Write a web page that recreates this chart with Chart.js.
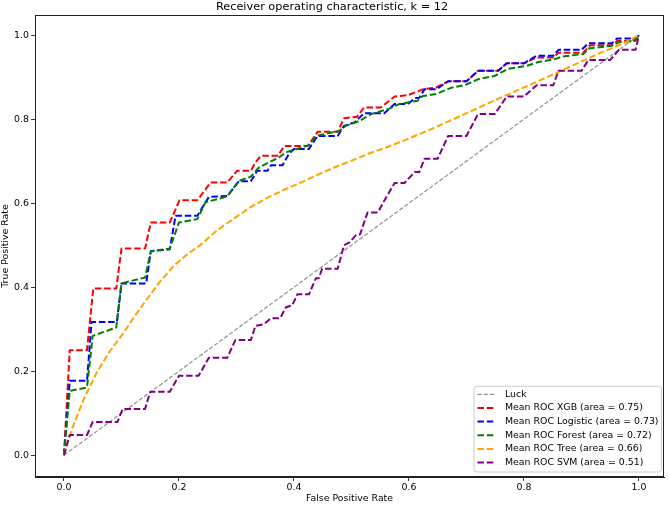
<!DOCTYPE html>
<html>
<head>
<meta charset="utf-8">
<script src="https://cdn.jsdelivr.net/npm/chart.js"></script>
<style>
  html, body { margin: 0; padding: 0; background: #fff; }
  canvas { display: block; }
</style>
</head>
<body>
<canvas id="rocChart" width="669" height="505"></canvas>
<script>
const titleText = 'Receiver operating characteristic, k = 12';
const xTicks = [0, 0.2, 0.4, 0.6, 0.8, 1.0];
const yTicks = [0, 0.2, 0.4, 0.6, 0.8, 1.0];

const labels = [
  'Luck',
  'Mean ROC XGB (area = 0.75)',
  'Mean ROC Logistic (area = 0.73)',
  'Mean ROC Forest (area = 0.72)',
  'Mean ROC Tree (area = 0.66)',
  'Mean ROC SVM (area = 0.51)',
];
const colors = ['rgba(128,128,128,0.8)', '#ff0000', '#0000ff', '#008000', '#ffa500', '#800080'];

// данные
const luckX = [0, 1];
const luckY = [0, 1];

const xgbX = [0, 0.01, 0.04, 0.051, 0.091, 0.10, 0.141, 0.151, 0.184, 0.201, 0.232, 0.255, 0.284, 0.301, 0.325, 0.333, 0.343, 0.372, 0.383, 0.424, 0.441, 0.476, 0.487, 0.51, 0.522, 0.551, 0.575, 0.598, 0.624, 0.647, 0.668, 0.70, 0.72, 0.755, 0.77, 0.80, 0.822, 0.851, 0.86, 0.903, 0.915, 0.953, 0.962, 0.994, 1.0];
const xgbY = [0, 0.25, 0.25, 0.397, 0.397, 0.492, 0.492, 0.554, 0.554, 0.607, 0.607, 0.649, 0.649, 0.677, 0.677, 0.697, 0.713, 0.713, 0.736, 0.736, 0.77, 0.77, 0.802, 0.806, 0.828, 0.828, 0.854, 0.857, 0.871, 0.875, 0.89, 0.89, 0.915, 0.915, 0.933, 0.933, 0.947, 0.947, 0.958, 0.958, 0.976, 0.976, 0.986, 0.986, 1.0];

const logX = [0, 0.01, 0.04, 0.048, 0.092, 0.10, 0.143, 0.151, 0.184, 0.194, 0.232, 0.252, 0.284, 0.304, 0.325, 0.336, 0.354, 0.36, 0.38, 0.391, 0.40, 0.426, 0.435, 0.441, 0.476, 0.487, 0.505, 0.522, 0.557, 0.575, 0.598, 0.61, 0.618, 0.627, 0.647, 0.668, 0.70, 0.72, 0.755, 0.77, 0.80, 0.822, 0.851, 0.86, 0.90, 0.912, 0.953, 0.962, 0.994, 1.0];
const logY = [0, 0.177, 0.177, 0.317, 0.317, 0.409, 0.409, 0.486, 0.49, 0.57, 0.57, 0.615, 0.617, 0.652, 0.652, 0.677, 0.677, 0.69, 0.69, 0.717, 0.729, 0.729, 0.748, 0.76, 0.76, 0.784, 0.792, 0.814, 0.814, 0.836, 0.836, 0.85, 0.851, 0.871, 0.871, 0.89, 0.89, 0.915, 0.915, 0.933, 0.933, 0.951, 0.951, 0.965, 0.965, 0.981, 0.981, 0.992, 0.992, 1.0];

const forestX = [0, 0.01, 0.04, 0.05, 0.091, 0.10, 0.141, 0.151, 0.184, 0.20, 0.232, 0.246, 0.284, 0.304, 0.325, 0.339, 0.374, 0.386, 0.426, 0.438, 0.479, 0.49, 0.514, 0.534, 0.566, 0.583, 0.615, 0.624, 0.647, 0.674, 0.697, 0.72, 0.749, 0.773, 0.805, 0.825, 0.854, 0.866, 0.903, 0.912, 0.953, 0.965, 0.99, 1.0];
const forestY = [0, 0.153, 0.161, 0.284, 0.304, 0.409, 0.423, 0.485, 0.492, 0.554, 0.562, 0.602, 0.616, 0.653, 0.663, 0.685, 0.709, 0.721, 0.738, 0.76, 0.772, 0.784, 0.796, 0.812, 0.825, 0.836, 0.844, 0.855, 0.86, 0.875, 0.881, 0.895, 0.903, 0.92, 0.927, 0.936, 0.943, 0.949, 0.955, 0.968, 0.975, 0.983, 0.986, 1.0];

const treeX = [0, 0.005, 0.016, 0.035, 0.057, 0.08, 0.104, 0.124, 0.144, 0.167, 0.191, 0.214, 0.237, 0.265, 0.295, 0.324, 0.354, 0.383, 0.412, 0.44, 0.47, 0.5, 0.528, 0.557, 0.586, 0.645, 0.703, 0.761, 0.819, 0.877, 0.935, 0.97, 1.0];
const treeY = [0, 0.025, 0.07, 0.135, 0.197, 0.248, 0.292, 0.333, 0.371, 0.413, 0.451, 0.478, 0.50, 0.534, 0.563, 0.59, 0.613, 0.632, 0.649, 0.667, 0.685, 0.701, 0.717, 0.731, 0.746, 0.78, 0.816, 0.852, 0.887, 0.923, 0.959, 0.979, 1.0];

const svmX = [0, 0.01, 0.04, 0.05, 0.093, 0.102, 0.141, 0.15, 0.184, 0.20, 0.234, 0.252, 0.284, 0.298, 0.325, 0.333, 0.348, 0.36, 0.376, 0.386, 0.397, 0.406, 0.426, 0.438, 0.443, 0.449, 0.476, 0.487, 0.496, 0.508, 0.515, 0.528, 0.546, 0.557, 0.575, 0.592, 0.61, 0.618, 0.627, 0.65, 0.668, 0.70, 0.72, 0.749, 0.77, 0.80, 0.822, 0.851, 0.86, 0.90, 0.912, 0.95, 0.965, 0.994, 1.0];
const svmY = [0, 0.048, 0.048, 0.079, 0.079, 0.11, 0.11, 0.151, 0.151, 0.189, 0.189, 0.232, 0.232, 0.274, 0.274, 0.308, 0.312, 0.326, 0.326, 0.352, 0.357, 0.383, 0.383, 0.421, 0.421, 0.444, 0.444, 0.50, 0.506, 0.524, 0.526, 0.578, 0.578, 0.606, 0.648, 0.648, 0.674, 0.674, 0.706, 0.706, 0.76, 0.76, 0.812, 0.812, 0.854, 0.854, 0.881, 0.881, 0.915, 0.915, 0.941, 0.941, 0.965, 0.965, 1.0];

const seriesX = [luckX, xgbX, logX, forestX, treeX, svmX];
const seriesY = [luckY, xgbY, logY, forestY, treeY, svmY];

const FONT = "'DejaVu Sans', sans-serif";
const lineWidth = (i) => (i === 0 ? 1.3 : 2);
const lineDash = (i) => (i === 0 ? [4.3, 1.9] : [6.5, 2.8]);

Chart.defaults.font.family = FONT;
Chart.defaults.color = '#000';

// рамка вокруг области графика
const framePlugin = {
  id: 'frame',
  afterDraw: (chart) => {
    const { ctx, chartArea: a } = chart;
    ctx.save();
    ctx.strokeStyle = '#222';
    ctx.lineWidth = 1;
    ctx.strokeRect(Math.round(a.left) + 0.5, Math.round(a.top) + 0.5,
      Math.round(a.right - a.left) - 1, Math.round(a.bottom - a.top) - 1);
    ctx.restore();
  },
};

// легенда внутри графика, справа снизу
const boxLegend = {
  id: 'boxLegend',
  afterDraw: (chart) => {
    const { ctx, chartArea: a } = chart;
    ctx.save();
    ctx.font = `9.4px ${FONT}`;
    const rowH = 13.66;
    const textW = Math.max(...labels.map((l) => ctx.measureText(l).width));
    const w = 3.5 + 18 + 9.5 + textW + 3;
    const h = 8 + (labels.length - 1) * rowH + 9.4;
    const right = a.right - 2.5;
    const bottom = a.bottom - 5;
    const left = right - w;
    const top = bottom - h;
    ctx.beginPath();
    if (ctx.roundRect) ctx.roundRect(left, top, w, h, 3);
    else ctx.rect(left, top, w, h);
    ctx.fillStyle = 'rgba(255,255,255,0.8)';
    ctx.fill();
    ctx.strokeStyle = '#cccccc';
    ctx.lineWidth = 1;
    ctx.stroke();
    labels.forEach((label, i) => {
      const y = top + 8 + i * rowH;
      ctx.beginPath();
      ctx.setLineDash(lineDash(i));
      ctx.lineWidth = lineWidth(i);
      ctx.strokeStyle = colors[i];
      ctx.moveTo(left + 3.5, y);
      ctx.lineTo(left + 21.5, y);
      ctx.stroke();
      ctx.setLineDash([]);
      ctx.fillStyle = '#000';
      ctx.textBaseline = 'middle';
      ctx.textAlign = 'left';
      ctx.fillText(label, left + 31, y);
    });
    ctx.restore();
  },
};

const tickFont = { family: FONT, size: 9.4 };

const ctx = document.getElementById('rocChart').getContext('2d');
const chart = new Chart(ctx, {
  type: 'scatter',
  data: {
    datasets: labels.map((label, i) => ({
      label,
      data: seriesX[i].map((x, j) => ({ x, y: seriesY[i][j] })),
      showLine: true,
      borderColor: colors[i],
      backgroundColor: colors[i],
      borderWidth: lineWidth(i),
      borderDash: lineDash(i),
      borderJoinStyle: 'round',
      pointRadius: 0,
      pointHoverRadius: 0,
      fill: false,
      tension: 0,
      order: labels.length - i,
    })),
  },
  options: {
    responsive: false,
    animation: false,
    devicePixelRatio: 1,
    layout: { padding: { left: 0, right: 5, top: 0, bottom: 0 } },
    scales: {
      x: {
        type: 'linear',
        min: -0.0504,
        max: 1.0435,
        afterBuildTicks: (s) => { s.ticks = xTicks.map((v) => ({ value: v })); },
        afterFit: (s) => { s.height = 28; },
        ticks: {
          callback: (v) => v.toFixed(1),
          font: tickFont,
          color: '#000',
          padding: 1,
          maxRotation: 0,
          autoSkip: false,
        },
        grid: { drawOnChartArea: false, tickLength: 4, color: '#222', tickWidth: 0.9 },
        border: { display: true, color: '#222', width: 1 },
        title: {
          display: true,
          text: 'False Positive Rate',
          font: tickFont,
          color: '#000',
          padding: { top: 0, bottom: 1.2 },
        },
      },
      y: {
        type: 'linear',
        min: -0.052,
        max: 1.048,
        afterBuildTicks: (s) => { s.ticks = yTicks.map((v) => ({ value: v })); },
        afterFit: (s) => { s.width = 35; },
        ticks: {
          callback: (v) => v.toFixed(1),
          font: tickFont,
          color: '#000',
          padding: 2,
          autoSkip: false,
        },
        grid: { drawOnChartArea: false, tickLength: 4, color: '#222', tickWidth: 0.9 },
        border: { display: true, color: '#222', width: 1 },
        title: {
          display: true,
          text: 'True Positive Rate',
          font: tickFont,
          color: '#000',
          padding: { top: 0, bottom: 0 },
        },
      },
    },
    plugins: {
      legend: { display: false },
      tooltip: { enabled: false },
      title: {
        display: true,
        text: titleText,
        font: { family: FONT, size: 11.3, weight: 'normal' },
        color: '#000',
        padding: { top: 0.7, bottom: 0.74 },
      },
    },
  },
  plugins: [framePlugin, boxLegend],
});
</script>
</body>
</html>
